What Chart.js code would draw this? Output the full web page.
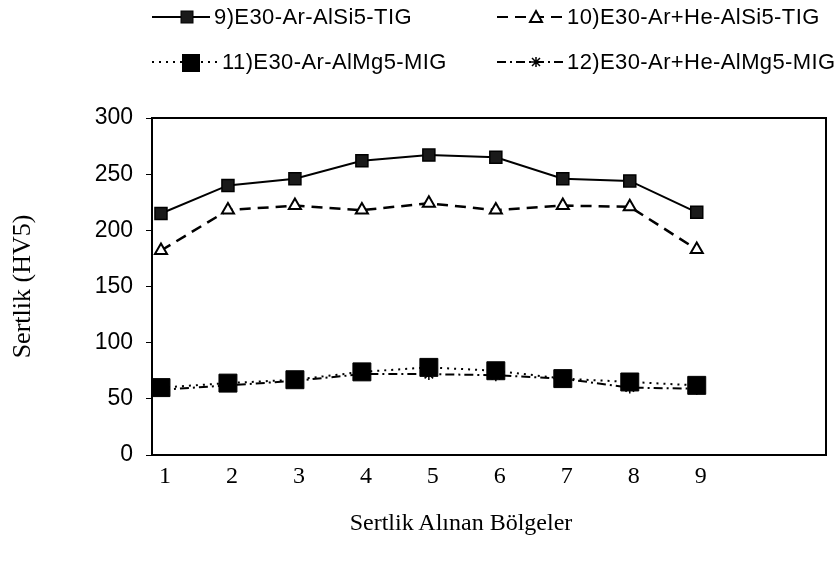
<!DOCTYPE html>
<html>
<head>
<meta charset="utf-8">
<script src="https://cdn.jsdelivr.net/npm/chart.js@4/dist/chart.umd.min.js"></script>
<style>
  body { margin: 0; background: #fff; }
  #wrap { position: relative; width: 840px; height: 562px; }
  #chart { position: absolute; left: 0; top: 0; }
  .leg { position: absolute; height: 30px; display: flex; align-items: center;
         font-family: "Liberation Sans", Arial, sans-serif; font-size: 22px; letter-spacing: 0.4px;
         color: #000; white-space: nowrap; }
  .leg svg { margin-right: 4px; }
  #xtitle { position: absolute; left: 0; width: 922px; top: 509px; text-align: center;
            font-family: "Liberation Serif", "Times New Roman", serif; font-size: 24px; color: #000; }
</style>
</head>
<body>
<div id="wrap">
  <canvas id="chart" width="840" height="562"></canvas>
  <div id="legend"></div>
  <div id="xtitle">Sertlik Alınan Bölgeler</div>
</div>
<script>
// measuring zones 1..9
const zones = [1, 2, 3, 4, 5, 6, 7, 8, 9];
const yTicks = [0, 50, 100, 150, 200, 250, 300];

const seriesNames = [
  "9)E30-Ar-AlSi5-TIG",
  "10)E30-Ar+He-AlSi5-TIG",
  "11)E30-Ar-AlMg5-MIG",
  "12)E30-Ar+He-AlMg5-MIG"
];

// hardness HV5
const arAlSi5Tig   = [215, 240, 246, 262, 267, 265, 246, 244, 216];
const arHeAlSi5Tig = [182, 218, 222, 218, 224, 218, 222, 221, 183];
const arAlMg5Mig   = [60, 64, 67, 74, 78, 75, 68, 65, 62];
const arHeAlMg5Mig = [58, 62, 66, 72, 72, 71, 68, 60, 59];

function pts(vals) {
  return zones.map((z, i) => ({ x: z, y: vals[i] }));
}

const styles = [
  { dash: [], width: 2, point: "rect", r: 8.5, fill: "#1a1a1a", pw: 1.5 },
  { dash: [11, 7], width: 2.5, point: "triangle", r: 7, fill: "#fff", pw: 2 },
  { dash: [2, 5], width: 2, point: "rect", r: 12.7, fill: "#000", pw: 1 },
  { dash: [9, 4, 2, 4], width: 2, point: "star", r: 6, fill: "#000", pw: 1.5 }
];
const allValues = [arAlSi5Tig, arHeAlSi5Tig, arAlMg5Mig, arHeAlMg5Mig];

const datasets = allValues.map((vals, i) => ({
  label: seriesNames[i],
  data: pts(vals),
  borderColor: "#000",
  borderWidth: styles[i].width,
  borderDash: styles[i].dash,
  pointStyle: styles[i].point,
  pointRadius: styles[i].r,
  pointBackgroundColor: styles[i].fill,
  pointBorderColor: "#000",
  pointBorderWidth: styles[i].pw,
  tension: 0,
  fill: false
}));

// box around the plot area
const frame = {
  id: "frame",
  afterDraw(chart) {
    const a = chart.chartArea, ctx = chart.ctx;
    ctx.save();
    ctx.strokeStyle = "#000";
    ctx.lineWidth = 2;
    ctx.strokeRect(a.left, a.top, a.right - a.left, a.bottom - a.top);
    ctx.restore();
  }
};

new Chart(document.getElementById("chart"), {
  type: "line",
  data: { datasets: datasets },
  options: {
    responsive: false,
    animation: false,
    layout: { padding: { top: 118, right: 14, bottom: 0, left: 0 } },
    plugins: { legend: { display: false }, tooltip: { enabled: false } },
    scales: {
      x: {
        type: "linear",
        min: 0.866,
        max: 10.93,
        afterBuildTicks: s => { s.ticks = zones.map(v => ({ value: v })); },
        afterFit: s => { s.height = 107; },
        grid: { display: false, drawTicks: false },
        border: { display: false },
        ticks: {
          padding: 7,
          labelOffset: 4,
          color: "#000",
          font: { family: "'Liberation Serif', 'Times New Roman', serif", size: 24 }
        }
      },
      y: {
        min: 0,
        max: 300,
        afterBuildTicks: s => { s.ticks = yTicks.map(v => ({ value: v })); },
        afterFit: s => { s.width = 152; },
        grid: { drawOnChartArea: false, drawTicks: true, tickLength: 6, color: "#000" },
        border: { display: false },
        ticks: {
          padding: 13,
          color: "#000",
          font: { family: "'Liberation Sans', Arial, sans-serif", size: 23 }
        },
        title: {
          display: true,
          text: "Sertlik (HV5)",
          color: "#000",
          padding: { top: 8, bottom: 0 },
          font: { family: "'Liberation Serif', 'Times New Roman', serif", size: 26 }
        }
      }
    }
  },
  plugins: [frame]
});

// legend in two rows like the original
function markerSvg(i, w) {
  const st = styles[i];
  const cy = 15, cx = w / 2 + 6;
  let m = "";
  if (i === 0) m = `<rect x="${cx - 6}" y="${cy - 6}" width="12" height="12" fill="#1a1a1a" stroke="#000"/>`;
  if (i === 1) m = `<polygon points="${cx},${cy - 6} ${cx + 6},${cy + 5} ${cx - 6},${cy + 5}" fill="#fff" stroke="#000" stroke-width="2"/>`;
  if (i === 2) m = `<rect x="${cx - 9}" y="${cy - 8}" width="18" height="18" fill="#000"/>`;
  if (i === 3) m = `<path d="M${cx - 5} ${cy}H${cx + 5}M${cx} ${cy - 5}V${cy + 5}M${cx - 4} ${cy - 4}L${cx + 4} ${cy + 4}M${cx + 4} ${cy - 4}L${cx - 4} ${cy + 4}" stroke="#000" stroke-width="1.5"/>`;
  const dash = st.dash.length ? `stroke-dasharray="${st.dash.join(" ")}"` : "";
  return `<svg width="${w}" height="30"><line x1="0" y1="${cy}" x2="${w}" y2="${cy}" stroke="#000" stroke-width="2" ${dash}/>${m}</svg>`;
}
const legPos = [
  { left: 152, top: 2 }, { left: 497, top: 2 },
  { left: 152, top: 47 }, { left: 497, top: 47 }
];
const legend = document.getElementById("legend");
seriesNames.forEach((name, i) => {
  const d = document.createElement("div");
  d.className = "leg";
  d.style.left = legPos[i].left + "px";
  d.style.top = legPos[i].top + "px";
  d.innerHTML = markerSvg(i, i === 0 ? 58 : 66) + "<span>" + name + "</span>";
  legend.appendChild(d);
});
</script>
</body>
</html>
